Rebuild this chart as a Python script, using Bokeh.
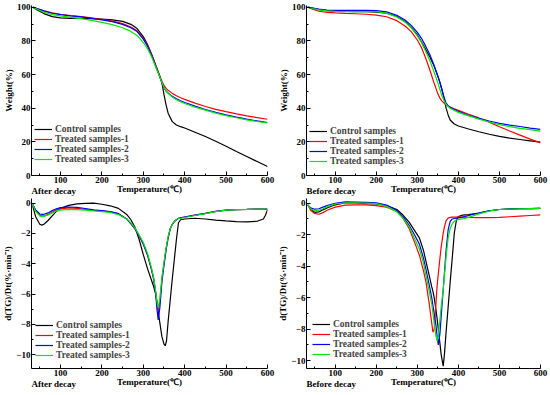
from bokeh.plotting import figure
from bokeh.models import FixedTicker, Title
from bokeh.layouts import column, row
from bokeh.embed import file_html
from bokeh.resources import INLINE

names = ["Control samples", "Treated samples-1", "Treated samples-2", "Treated samples-3"]
colors = ["#000000", "#FF0000", "#0000FF", "#00E800"]

# ---- TG, after decay ----
tg_after_T = [33, 45, 60, 80, 100, 125, 150, 175, 200, 225, 250, 270, 285, 300, 310, 320, 330,
              340, 345, 350, 355, 360, 370, 380, 390, 400, 425, 450, 475, 500, 525, 550, 575, 600]
tg_after_control = [100, 98.2, 96.2, 94.4, 93.6, 93.3, 93.3, 93.2, 92.9, 92.5, 91.6, 89.8, 87.3, 82.5, 78, 72, 65.5,
                    59, 55, 48, 42, 37, 32, 30, 29, 28.2, 25.7, 23.2, 20.3, 17.4, 14.3, 11.3, 8.3, 5.3]
tg_after_t1 = [100, 99, 97.8, 96.6, 95.8, 95, 94.4, 93.6, 92.8, 91.8, 90.2, 88.2, 86, 81.5, 77.5, 72, 65.5,
               59, 56, 53.5, 51.8, 50.6, 48.8, 47.4, 46.2, 45.2, 43, 41, 39.3, 37.9, 36.6, 35.4, 34.4, 33.4]
tg_after_t2 = [100, 99, 97.8, 96.4, 95.6, 94.8, 94.2, 93.4, 92.5, 91.4, 89.8, 87.8, 85.5, 81, 77, 71.5, 65,
               58.5, 55, 52.2, 50.2, 49, 47, 45.6, 44.4, 43.4, 41.2, 39.2, 37.5, 36, 34.7, 33.5, 32.4, 31.5]
tg_after_t3 = [100, 98.6, 97, 95.6, 94.8, 94, 93.2, 92.2, 91, 89.6, 87.8, 85.6, 83.2, 79, 75.5, 70.5, 64.5,
               58.5, 55.2, 52.3, 50.3, 48.8, 46.6, 45, 43.8, 42.8, 40.6, 38.8, 37.1, 35.6, 34.3, 33.1, 32.1, 31.2]

# ---- TG, before decay ----
tg_before_T = [33, 45, 60, 80, 100, 125, 150, 175, 200, 225, 250, 270, 285, 300, 310, 320, 330, 340,
               350, 355, 360, 365, 370, 375, 380, 390, 400, 425, 450, 475, 500, 525, 550, 575, 600]
tg_before_control = [100, 99.4, 98.6, 97.9, 97.6, 97.5, 97.4, 97.3, 97.1, 96.4, 94.5, 91.5, 88, 83.5, 79.5, 75, 70.5, 65.5,
                     59, 55.5, 51, 46, 40, 36, 33, 30.6, 29.4, 27.6, 26, 24.5, 23.2, 22.2, 21.4, 20.6, 19.8]
tg_before_t1 = [100, 98.8, 97.6, 96.9, 96.6, 96.3, 96.1, 95.8, 95.3, 94.3, 92, 88.8, 85.5, 80.5, 76, 70, 63, 55.5,
                48.5, 46, 44.2, 43, 42, 41.3, 40.6, 39.6, 38.7, 36.4, 34.2, 31.7, 29, 26.4, 24, 21.6, 19.4]
tg_before_t2 = [100, 99.4, 98.8, 98.3, 98.1, 98.1, 98.1, 98.1, 98, 97.2, 95.2, 92.4, 89.2, 85, 81.5, 77, 72, 66,
                59, 55, 50.8, 46.5, 43, 41.5, 40.6, 39.2, 38.1, 35.8, 34, 32.4, 31, 29.9, 29.1, 28.2, 27.4]
tg_before_t3 = [100, 99.2, 98.4, 97.8, 97.5, 97.4, 97.4, 97.4, 97.3, 96.5, 94.2, 91.2, 87.8, 83, 79, 74, 68.5, 62,
                55, 51, 47.2, 44.5, 42.2, 41, 40, 38.7, 37.5, 35.4, 33.5, 31.8, 30.2, 29, 28, 27.2, 26.4]

# ---- DTG, after decay ----
dtg_after_T = [33, 40, 50, 55, 60, 70, 80, 90, 100, 120, 140, 160, 180, 200, 220, 240, 260, 270, 280, 290,
               300, 310, 320, 325, 330, 333, 336, 340, 345, 350, 353, 356, 360, 365, 370, 375, 380, 385, 390,
               400, 425, 450, 475, 500, 525, 550, 575, 590, 595, 600]
dtg_after_control = [-0.2, -0.9, -1.4, -1.45, -1.4, -1.15, -0.85, -0.55, -0.35, -0.15, -0.06, -0.02, 0.0, -0.08, -0.18, -0.35, -0.75, -1.1, -1.6, -2.4,
                     -3.4, -4.3, -5.1, -5.5, -6.0, -6.5, -7.1, -7.9, -8.8, -9.3, -9.4, -9.1, -7.8, -6.4, -5.0, -3.7, -2.4, -1.3, -1.1,
                     -1.05, -1.0, -1.05, -1.12, -1.18, -1.22, -1.24, -1.2, -1.05, -0.8, -0.45]
dtg_after_t1 = [-0.1, -0.5, -0.8, -0.85, -0.85, -0.75, -0.6, -0.45, -0.38, -0.32, -0.35, -0.42, -0.48, -0.52, -0.58, -0.7, -1.05, -1.35, -1.7, -2.15,
                -2.7, -3.4, -4.4, -5.0, -5.9, -6.6, -7.0, -6.5, -5.0, -4.0, -3.4, -2.9, -2.3, -1.7, -1.4, -1.22, -1.1, -1.0, -0.98,
                -0.92, -0.8, -0.68, -0.55, -0.47, -0.43, -0.42, -0.4, -0.4, -0.4, -0.4]
dtg_after_t2 = [-0.1, -0.45, -0.72, -0.75, -0.74, -0.65, -0.5, -0.38, -0.3, -0.26, -0.28, -0.36, -0.45, -0.5, -0.57, -0.7, -1.05, -1.35, -1.7, -2.15,
                -2.7, -3.4, -4.4, -5.0, -6.0, -7.0, -7.7, -6.9, -5.2, -4.1, -3.5, -2.9, -2.3, -1.7, -1.4, -1.22, -1.1, -1.0, -0.98,
                -0.92, -0.8, -0.68, -0.55, -0.47, -0.43, -0.42, -0.4, -0.4, -0.4, -0.4]
dtg_after_t3 = [-0.1, -0.55, -0.85, -0.9, -0.88, -0.78, -0.65, -0.52, -0.46, -0.42, -0.43, -0.47, -0.52, -0.56, -0.62, -0.76, -1.05, -1.3, -1.65, -2.1,
                -2.6, -3.3, -4.3, -4.9, -5.8, -6.5, -6.9, -6.3, -4.9, -3.9, -3.3, -2.8, -2.2, -1.7, -1.4, -1.22, -1.1, -1.02, -1.0,
                -0.95, -0.82, -0.7, -0.56, -0.47, -0.43, -0.42, -0.4, -0.4, -0.4, -0.4]

# ---- DTG, before decay ----
dtg_before_T = [33, 40, 50, 60, 70, 80, 100, 125, 150, 175, 200, 225, 250, 265, 280, 295, 305, 315, 321, 329,
                335, 338, 341, 345, 348, 351, 355, 358, 363, 366, 370, 375, 380, 385, 390, 395, 400, 410, 425,
                450, 475, 500, 525, 550, 575, 600]
dtg_before_control = [-0.1, -0.35, -0.58, -0.55, -0.42, -0.3, -0.1, 0.03, 0.02, -0.02, -0.05, -0.15, -0.4, -0.75, -1.2, -1.8, -2.2, -3.0, -3.7, -4.6,
                      -5.3, -5.6, -6.0, -6.7, -7.3, -8.0, -8.9, -9.6, -10.35, -9.6, -8.2, -6.6, -5.0, -3.5, -1.9, -1.1, -0.85, -0.75, -0.72,
                      -0.62, -0.48, -0.4, -0.36, -0.34, -0.34, -0.33]
dtg_before_t1 = [-0.1, -0.45, -0.65, -0.7, -0.6, -0.45, -0.25, -0.12, -0.1, -0.1, -0.15, -0.25, -0.5, -0.95, -1.6, -2.6, -3.3, -4.3, -5.0, -6.4,
                 -7.6, -8.2, -8.0, -6.5, -5.3, -4.5, -3.5, -2.8, -1.9, -1.5, -1.1, -0.95, -0.9, -0.88, -0.88, -0.88, -0.87, -0.88, -0.9,
                 -0.92, -0.92, -0.9, -0.86, -0.82, -0.78, -0.74]
dtg_before_t2 = [-0.1, -0.3, -0.38, -0.35, -0.25, -0.15, 0.0, 0.08, 0.07, 0.05, 0.02, -0.12, -0.45, -0.85, -1.4, -2.1, -2.6, -3.5, -4.2, -5.2,
                 -6.0, -6.5, -7.0, -7.7, -8.4, -9.0, -8.3, -7.2, -5.5, -4.4, -3.0, -1.7, -1.15, -1.0, -0.97, -0.95, -0.93, -0.88, -0.78,
                 -0.62, -0.48, -0.4, -0.37, -0.35, -0.34, -0.33]
dtg_before_t3 = [-0.1, -0.35, -0.48, -0.45, -0.35, -0.22, -0.05, 0.02, 0.02, 0.0, -0.03, -0.2, -0.55, -0.95, -1.5, -2.35, -2.9, -3.8, -4.6, -5.6,
                 -6.4, -7.0, -7.6, -8.4, -8.75, -8.4, -7.4, -6.6, -5.5, -4.6, -3.4, -2.2, -1.6, -1.3, -1.15, -1.07, -1.03, -1.0, -0.9,
                 -0.68, -0.5, -0.4, -0.37, -0.35, -0.34, -0.33]

x_ticks = [100, 200, 300, 400, 500, 600]
x_minor = [50, 150, 250, 350, 450, 550]
tg_ticks = [0, 20, 40, 60, 80, 100]
tg_minor = [10, 30, 50, 70, 90]
dtg_ticks = [-10, -8, -6, -4, -2, 0]
dtg_minor = [-9, -7, -5, -3, -1]

FONT = "Liberation Serif"


def panel(T, series, yr, ylabel, yticks, yminor, caption, width, height, bl, br, bt, bb, leg_loc):
    p = figure(width=width, height=height, x_range=(30, 600), y_range=yr,
               output_backend="svg", toolbar_location=None,
               min_border_left=bl, min_border_right=br, min_border_top=bt, min_border_bottom=bb)
    p.outline_line_color = None
    p.grid.visible = False
    for vals, name, col in zip(series, names, colors):
        p.line(T, vals, line_color=col, line_width=1.2, legend_label=name)
    p.xaxis.ticker = FixedTicker(ticks=x_ticks, minor_ticks=x_minor)
    p.yaxis.ticker = FixedTicker(ticks=yticks, minor_ticks=yminor)
    for ax in (p.xaxis[0], p.yaxis[0]):
        ax.major_tick_in = 4
        ax.major_tick_out = 0
        ax.minor_tick_in = 2
        ax.minor_tick_out = 0
        ax.axis_line_color = "black"
        ax.major_tick_line_color = "black"
        ax.minor_tick_line_color = "black"
        ax.major_label_text_font = FONT
        ax.major_label_text_font_style = "bold"
        ax.major_label_text_font_size = "9px"
        ax.major_label_text_color = "black"
        ax.axis_label_text_font = FONT
        ax.axis_label_text_font_style = "bold"
        ax.axis_label_text_font_size = "9px"
        ax.axis_label_text_color = "black"
        ax.major_label_standoff = 1
        ax.axis_label_standoff = 0
    p.xaxis.axis_label = "Temperature(℃)"
    p.yaxis.axis_label = ylabel
    p.xaxis.axis_label_standoff = -2
    lg = p.legend[0]
    lg.location = leg_loc
    lg.background_fill_alpha = 0
    lg.border_line_alpha = 0
    lg.padding = 0
    lg.margin = 0
    lg.spacing = 0
    lg.glyph_width = 18
    lg.glyph_height = 10
    lg.label_height = 10
    lg.label_standoff = 3
    lg.label_text_font = FONT
    lg.label_text_font_style = "bold"
    lg.label_text_font_size = "9.5px"
    p.add_layout(Title(text=caption, align="left", vertical_align="top", standoff=-22,
                       text_font=FONT, text_font_style="bold", text_font_size="9px",
                       text_color="black"), "below")
    return p


tl = panel(tg_after_T, [tg_after_control, tg_after_t1, tg_after_t2, tg_after_t3], (0, 101), "Weight(%)",
           tg_ticks, tg_minor, "After decay", 275, 196, 27, 8, 5, 21, (3, 11))
tr = panel(tg_before_T, [tg_before_control, tg_before_t1, tg_before_t2, tg_before_t3], (0, 101), "Weight(%)",
           tg_ticks, tg_minor, "Before decay", 275, 196, 27, 10, 5, 21, (3, 9))
bl = panel(dtg_after_T, [dtg_after_control, dtg_after_t1, dtg_after_t2, dtg_after_t3], (-10.9, 0.3), "d(TG)/Dt(%·min⁻¹)",
           dtg_ticks, dtg_minor, "After decay", 275, 199, 27, 8, 2, 27, (4, 8))
br = panel(dtg_before_T, [dtg_before_control, dtg_before_t1, dtg_before_t2, dtg_before_t3], (-10.5, 0.3), "d(TG)/Dt(%·min⁻¹)",
           dtg_ticks, dtg_minor, "Before decay", 275, 199, 27, 10, 2, 25, (6, 9))

layout = column(row(tl, tr), row(bl, br))
open("out.html", "w").write(file_html(layout, INLINE))
